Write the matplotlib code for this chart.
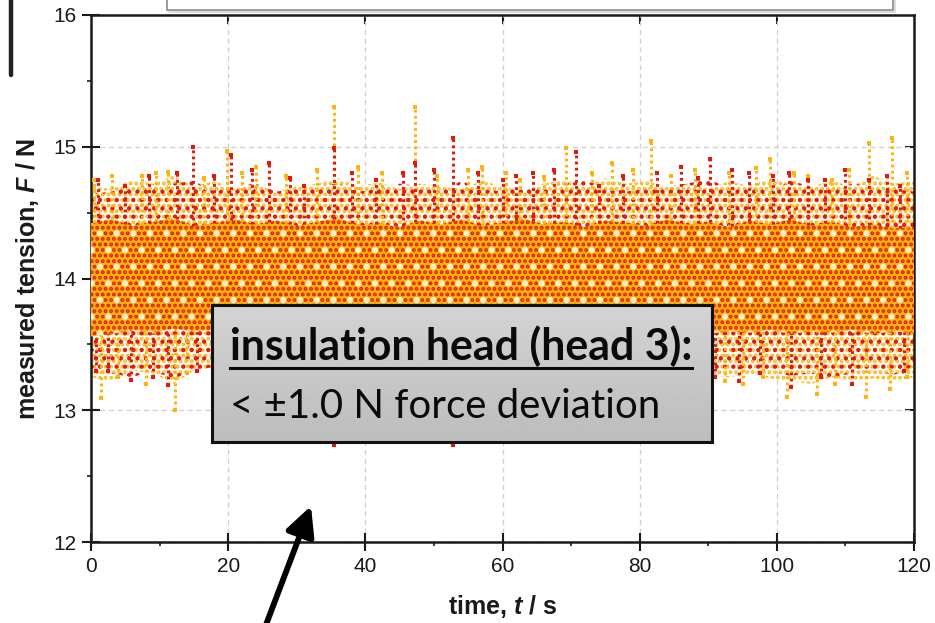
import numpy as np
import matplotlib
matplotlib.use("Agg")
import matplotlib.pyplot as plt
from matplotlib.patches import Rectangle
from matplotlib.lines import Line2D
from matplotlib.ticker import MultipleLocator, NullLocator

# ---------------- data ----------------
t_env = [0, 3, 6, 9, 12, 15, 18, 21, 24, 27, 30, 33, 36, 39, 42, 45, 48, 51, 54, 57, 60,
         63, 66, 69, 72, 75, 78, 81, 84, 87, 90, 93, 96, 99, 102, 105, 108, 111, 114, 117, 120]

# dense core of the two measurement runs (upper / lower edge, N)
core_top = [14.42, 14.45, 14.40, 14.43, 14.46, 14.40, 14.42, 14.45, 14.41, 14.44, 14.40,
            14.43, 14.46, 14.40, 14.42, 14.39, 14.44, 14.41, 14.45, 14.40, 14.42, 14.46,
            14.41, 14.43, 14.39, 14.44, 14.42, 14.40, 14.45, 14.41, 14.43, 14.39, 14.44,
            14.41, 14.45, 14.40, 14.43, 14.39, 14.41, 14.38, 14.39]
core_bot = [13.56, 13.58, 13.61, 13.59, 13.62, 13.60, 13.61, 13.63, 13.60, 13.62, 13.61,
            13.59, 13.62, 13.60, 13.61, 13.63, 13.60, 13.61, 13.62, 13.59, 13.61, 13.62,
            13.60, 13.61, 13.63, 13.60, 13.61, 13.59, 13.62, 13.61, 13.58, 13.60, 13.59,
            13.61, 13.58, 13.60, 13.59, 13.61, 13.58, 13.60, 13.59]

# sparse outer scatter of each run
orange_top = [14.70, 14.68, 14.75, 14.72, 14.78, 14.70, 14.74, 14.68, 14.72, 14.66, 14.70,
              14.72, 14.76, 14.70, 14.73, 14.68, 14.72, 14.70, 14.68, 14.74, 14.70, 14.66,
              14.72, 14.75, 14.70, 14.76, 14.72, 14.74, 14.70, 14.72, 14.68, 14.74, 14.70,
              14.76, 14.72, 14.70, 14.74, 14.70, 14.78, 14.72, 14.74]
orange_bot = [13.25, 13.22, 13.30, 13.28, 13.20, 13.30, 13.32, 13.28, 13.30, 13.27, 13.30,
              13.28, 13.30, 13.32, 13.28, 13.30, 13.27, 13.30, 13.28, 13.31, 13.29, 13.30,
              13.28, 13.30, 13.27, 13.30, 13.28, 13.31, 13.30, 13.28, 13.27, 13.25, 13.28,
              13.24, 13.22, 13.20, 13.25, 13.22, 13.24, 13.22, 13.25]
red_top = [14.64, 14.66, 14.70, 14.68, 14.72, 14.74, 14.66, 14.70, 14.72, 14.66, 14.68,
           14.70, 14.72, 14.66, 14.68, 14.72, 14.70, 14.66, 14.74, 14.68, 14.66, 14.70,
           14.68, 14.72, 14.74, 14.70, 14.66, 14.68, 14.70, 14.72, 14.76, 14.68, 14.72,
           14.66, 14.74, 14.70, 14.68, 14.72, 14.70, 14.68, 14.66]
red_bot = [13.30, 13.28, 13.25, 13.30, 13.24, 13.30, 13.33, 13.32, 13.30, 13.34, 13.32,
           13.30, 13.33, 13.31, 13.32, 13.30, 13.33, 13.32, 13.30, 13.32, 13.31, 13.33,
           13.30, 13.32, 13.31, 13.30, 13.33, 13.32, 13.30, 13.28, 13.26, 13.30, 13.28,
           13.30, 13.26, 13.28, 13.25, 13.28, 13.30, 13.27, 13.30]

# individual streaks / spikes (time s, peak N)
orange_up_t = [0.5, 3.0, 7.5, 9.5, 11.2, 16.5, 19.8, 22.0, 24.0, 28.5, 33.0, 35.4, 39.0,
               42.5, 47.2, 50.5, 55.0, 57.0, 60.5, 62.5, 66.0, 69.3, 73.0, 76.0, 79.0,
               81.6, 84.5, 88.0, 93.0, 97.0, 99.0, 102.5, 104.5, 108.0, 110.5, 113.5,
               116.8, 119.0]
orange_up_v = [14.75, 14.78, 14.78, 14.80, 14.81, 14.76, 14.97, 14.80, 14.85, 14.78, 14.82,
               15.30, 14.85, 14.80, 15.30, 14.78, 14.82, 14.85, 14.80, 14.75, 14.77, 14.99,
               14.80, 14.88, 14.82, 15.04, 14.78, 14.82, 14.80, 14.84, 14.91, 14.80, 14.78,
               14.75, 14.82, 15.03, 15.07, 14.80]
red_up_t = [1.0, 5.0, 8.5, 12.5, 14.9, 18.0, 20.4, 23.5, 26.0, 29.0, 31.0, 35.4, 38.0,
            41.5, 45.5, 47.2, 50.0, 52.8, 56.5, 60.0, 62.0, 64.5, 67.5, 70.7, 74.0, 77.5,
            82.5, 86.0, 88.5, 90.3, 93.5, 96.0, 99.5, 101.8, 104.5, 107.0, 110.0, 113.5,
            116.0, 118.0]
red_up_v = [14.75, 14.70, 14.78, 14.80, 15.00, 14.78, 14.94, 14.82, 14.88, 14.76, 14.70,
            14.99, 14.80, 14.75, 14.80, 14.88, 14.82, 15.07, 14.80, 14.75, 14.78, 14.80,
            14.82, 14.96, 14.70, 14.78, 14.80, 14.85, 14.76, 14.91, 14.82, 14.80, 14.78,
            14.80, 14.75, 14.75, 14.82, 14.75, 14.78, 14.70]
orange_dn_t = [1.5, 4.0, 8.0, 12.2, 14.0, 92.5, 95.0, 98.0, 101.5, 105.9, 108.5, 113.0,
               116.5, 119.0]
orange_dn_v = [13.09, 13.25, 13.20, 13.00, 13.28, 13.22, 13.20, 13.25, 13.10, 13.12, 13.20,
               13.10, 13.16, 13.25]
red_dn_t = [0.8, 2.5, 5.8, 9.0, 11.2, 15.5, 35.4, 52.8, 91.0, 94.5, 97.5, 102.0, 106.5,
            111.0, 118.5]
red_dn_v = [13.30, 13.30, 13.23, 13.25, 13.19, 13.30, 12.74, 12.74, 13.25, 13.22, 13.28,
            13.18, 13.25, 13.20, 13.30]

x_ticks = [0, 20, 40, 60, 80, 100, 120]
y_ticks = [12, 13, 14, 15, 16]

ORANGE = "#FDB310"
RED = "#E21A0E"

# ---------------- figure ----------------
plt.rcParams["font.family"] = ["Liberation Sans", "DejaVu Sans"]
plt.rcParams["mathtext.fontset"] = "custom"
plt.rcParams["mathtext.it"] = "Liberation Sans:italic:bold"
plt.rcParams["mathtext.rm"] = "Liberation Sans:bold"
plt.rcParams["hatch.linewidth"] = 1.9

W, H = 935, 623
fig = plt.figure(figsize=(W / 100, H / 100), dpi=100)
ax = fig.add_axes([91 / W, 1 - 542 / H, 823 / W, 527 / H])

# outer sparse scatter
ax.fill_between(t_env, orange_bot, orange_top, facecolor="none", edgecolor=ORANGE,
                hatch="...", linewidth=0, zorder=2)
ax.fill_between(t_env, red_bot, red_top, facecolor="none", edgecolor=RED,
                hatch="..", linewidth=0, zorder=2.1)
# dense core
ax.fill_between(t_env, core_bot, core_top, facecolor=ORANGE, edgecolor=RED,
                hatch="...", linewidth=0, zorder=3)
ax.fill_between(t_env, core_bot, core_top, facecolor="none", edgecolor="#FFF4D8",
                hatch=".", linewidth=0, zorder=3.1)

# spikes as dotted vertical streaks
streak = dict(linestyles=(0, (0.9, 1.1)), linewidth=2.2, zorder=4)
ax.vlines(orange_up_t, np.interp(orange_up_t, t_env, core_top), orange_up_v, colors=ORANGE, **streak)
ax.vlines(red_up_t, np.interp(red_up_t, t_env, core_top), red_up_v, colors=RED, **streak)
ax.vlines(orange_dn_t, orange_dn_v, np.interp(orange_dn_t, t_env, core_bot), colors=ORANGE, **streak)
ax.vlines(red_dn_t, red_dn_v, np.interp(red_dn_t, t_env, core_bot), colors=RED, **streak)
ax.plot(orange_up_t + orange_dn_t, orange_up_v + orange_dn_v, ls="none", marker="s",
        ms=2.2, mew=0, color=ORANGE, zorder=4)
ax.plot(red_up_t + red_dn_t, red_up_v + red_dn_v, ls="none", marker="s",
        ms=2.2, mew=0, color=RED, zorder=4)

ax.set_xlim(0, 120)
ax.set_ylim(12, 16)
ax.set_xticks(x_ticks)
ax.set_yticks(y_ticks)
ax.xaxis.set_minor_locator(MultipleLocator(10))
ax.yaxis.set_minor_locator(MultipleLocator(0.5))
ax.grid(True, which="major", color="#cfcfcf", linestyle=(0, (4, 3)), linewidth=0.9)
ax.set_axisbelow(True)
for s in ax.spines.values():
    s.set_linewidth(1.8)
    s.set_color("#1a1a1a")
ax.tick_params(which="major", direction="inout", length=13, width=1.5,
               labelsize=15, pad=4, colors="#1a1a1a")
ax.tick_params(which="minor", direction="out", length=3, width=1.2, colors="#1a1a1a")

secx = ax.secondary_xaxis("top")
secx.set_xticks(x_ticks[1:-1])
secx.xaxis.set_minor_locator(NullLocator())
secx.tick_params(direction="in", length=6.5, width=1.5, labeltop=False, colors="#1a1a1a")
secx.spines["top"].set_visible(False)
secy = ax.secondary_yaxis("right")
secy.set_yticks(y_ticks[1:-1])
secy.yaxis.set_minor_locator(NullLocator())
secy.tick_params(direction="in", length=6.5, width=1.5, labelright=False, colors="#1a1a1a")
secy.spines["right"].set_visible(False)

ax.set_xlabel(r"time, $\mathit{t}$ / s", fontsize=18, fontweight="bold", color="#1a1a1a")
ax.set_ylabel(r"measured tension, $\mathit{F}$ / N", fontsize=18, fontweight="bold", color="#1a1a1a")
ax.xaxis.set_label_coords(0.5, -0.097)
ax.yaxis.set_label_coords(-0.0766, 0.5)
ax.yaxis.label.set_verticalalignment("center")
ax.xaxis.label.set_verticalalignment("top")

# ---------------- annotation box ----------------
bax = fig.add_axes([212 / W, 1 - 442 / H, 500 / W, 137 / H], zorder=10)
grad = np.linspace(0.83, 0.74, 64).reshape(-1, 1)
bax.imshow(grad, cmap="gray", vmin=0, vmax=1, aspect="auto", extent=[0, 1, 0, 1])
bax.set_xticks([])
bax.set_yticks([])
for s in bax.spines.values():
    s.set_linewidth(2.2)
    s.set_color("#111111")

t1 = fig.text(230 / W, 1 - 360 / H, "insulation head (head 3):", fontsize=30,
              fontweight="bold", family=["Lato", "DejaVu Sans"], va="baseline",
              color="#0a0a0a", zorder=11)
t2 = fig.text(230 / W, 1 - 418 / H, "< \u00b11.0 N force deviation", fontsize=30,
              family=["Lato", "DejaVu Sans"], va="baseline", color="#0a0a0a", zorder=11)
r = fig.canvas.get_renderer()
for t, target in ((t1, 462), (t2, 430)):
    w = t.get_window_extent(r).width
    t.set_fontsize(t.get_fontsize() * target / w)
e1 = t1.get_window_extent(r)
fig.add_artist(Line2D([e1.x0 / W, e1.x1 / W], [1 - 368 / H, 1 - 368 / H],
                      transform=fig.transFigure, lw=2.2, color="#0a0a0a", zorder=11))

# ---------------- decorations outside the plot ----------------
fig.add_artist(Rectangle((169 / W, 1 - 12 / H), 726 / W, 20 / H, transform=fig.transFigure,
                         fill=False, edgecolor="#dddddd", lw=1.4))
fig.add_artist(Rectangle((167 / W, 1 - 10 / H), 726 / W, 20 / H, transform=fig.transFigure,
                         facecolor="white", edgecolor="#8a8a8a", lw=1.2))
fig.add_artist(Line2D([11 / W, 11 / W], [1, 1 - 75 / H], transform=fig.transFigure,
                      lw=3.2, color="#222222", solid_capstyle="round"))
ax.annotate("", xy=(311 / W, 1 - 506 / H), xycoords="figure fraction",
            xytext=(264 / W, 1 - 630 / H), textcoords="figure fraction",
            arrowprops=dict(arrowstyle="-|>,head_length=0.8,head_width=0.4", lw=4.2,
                            color="black", shrinkA=0, shrinkB=0, mutation_scale=22),
            annotation_clip=False, zorder=12)

fig.savefig("out.png", dpi=100)
